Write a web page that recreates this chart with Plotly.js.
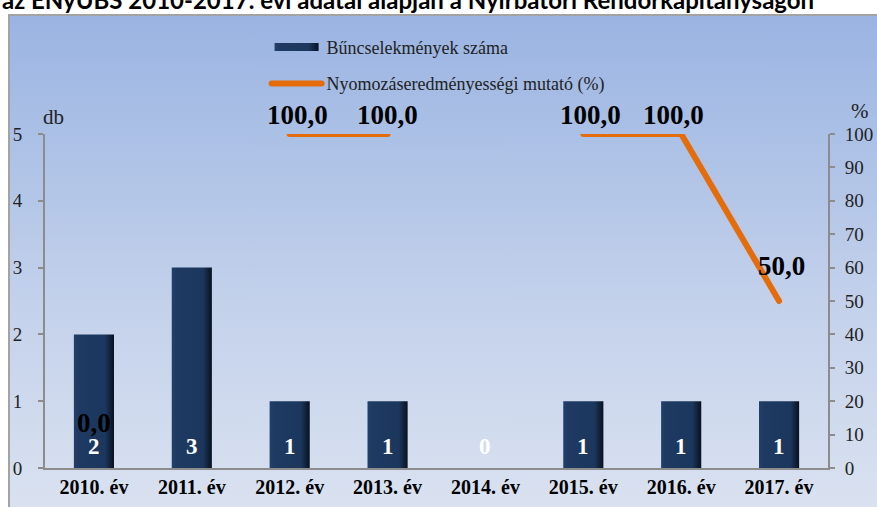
<!DOCTYPE html>
<html>
<head>
<meta charset="utf-8">
<script src="https://cdn.plot.ly/plotly-3.0.1.min.js"></script>
<style>
  html, body { margin: 0; padding: 0; background: #ffffff; }
  #wrap { position: relative; width: 877px; height: 507px; overflow: hidden; }
  #frame { position: absolute; left: 8px; top: 14px; width: 900px; height: 520px;
           border: 2px solid #a3a3a3;
           background: linear-gradient(to bottom, #9AB4E2 0%, #C3D1EB 55%, #DDE4F1 100%); }
  #chart { position: absolute; left: 0; top: 0; width: 877px; height: 507px; }
</style>
</head>
<body>
<div id="wrap">
  <div id="frame"></div>
  <div id="chart"></div>
</div>
<script>
// ---- data ----
const categories = ['2010. év', '2011. év', '2012. év', '2013. év', '2014. év', '2015. év', '2016. év', '2017. év'];
const crimeCounts = [2, 3, 1, 1, 0, 1, 1, 1];
const clearanceRate = [0, null, 100, 100, null, 100, 100, 50];
const rateLabels = ['0,0', null, '100,0', '100,0', null, '100,0', '100,0', '50,0'];
const barName = 'Bűncselekmények száma';
const lineName = 'Nyomozáseredményességi mutató (%)';
const chartTitle = 'az ENyÜBS 2010-2017. évi adatai alapján a Nyírbátori Rendőrkapitányságon';

// ---- label offsets (style) ----
const rateLabelShiftX = [0, 0, 8, 0, 0, 7, -8, 2];
const rateLabelShiftY = [40, 0, 14, 14, 0, 14, 14, 30];

const serif = 'Liberation Serif, Times New Roman, serif';

const bars = {
  type: 'bar', x: categories, y: crimeCounts, name: barName,
  width: 0.41,
  marker: { color: '#1E3960', line: { color: '#0C1A2E', width: 0 } },
  legendgroup: 'a', hoverinfo: 'skip'
};
const line = {
  type: 'scatter', mode: 'lines', x: categories, y: clearanceRate, yaxis: 'y2',
  name: lineName, connectgaps: false,
  line: { color: '#E46C0A', width: 6 },
  legendgroup: 'b', hoverinfo: 'skip'
};

const annotations = [];
categories.forEach((c, i) => {
  annotations.push({
    x: c, y: 0, xref: 'x', yref: 'y', yanchor: 'bottom', yshift: 7,
    text: '<b>' + crimeCounts[i] + '</b>', showarrow: false,
    font: { family: serif, size: 23, color: '#ffffff' }
  });
  if (rateLabels[i] !== null) {
    annotations.push({
      x: c, y: clearanceRate[i], xref: 'x', yref: 'y2', yanchor: 'bottom',
      xshift: rateLabelShiftX[i], yshift: rateLabelShiftY[i] - 12,
      text: '<b>' + rateLabels[i] + '</b>', showarrow: false,
      font: { family: serif, size: 27, color: '#000000' }
    });
  }
});
annotations.push({ xref: 'paper', yref: 'paper', x: 0, y: 1.0, xanchor: 'center', yanchor: 'bottom',
  xshift: 8, yshift: 3, text: 'db', showarrow: false, font: { family: serif, size: 21, color: '#222' } });
annotations.push({ xref: 'paper', yref: 'paper', x: 1.0, y: 1.0, xanchor: 'left', yanchor: 'bottom',
  xshift: 21, yshift: 9, text: '%', showarrow: false, font: { family: serif, size: 21, color: '#222' } });
annotations.push({ xref: 'paper', yref: 'paper', x: -0.0575, y: 1.352, xanchor: 'left', yanchor: 'bottom',
  text: '<b>' + chartTitle + '</b>', showarrow: false, font: { family: 'Lato, Liberation Sans, sans-serif', size: 24, color: '#000' } });

const layout = {
  width: 877, height: 507,
  margin: { l: 45, r: 49, t: 134, b: 39 },
  paper_bgcolor: 'rgba(0,0,0,0)', plot_bgcolor: 'rgba(0,0,0,0)',
  showlegend: true,
  legend: { x: 0.283, y: 1.315, xanchor: 'left', yanchor: 'top', bgcolor: 'rgba(0,0,0,0)',
            traceorder: 'grouped', tracegroupgap: 10, itemwidth: 50,
            font: { family: serif, size: 18, color: '#222' } },
  bargap: 0.59,
  xaxis: { type: 'category', showline: true, linecolor: '#8c8c8c', linewidth: 2,
           ticks: '', showgrid: false, zeroline: false,
           tickfont: { family: serif, size: 20, color: '#000', weight: 'bold' } },
  yaxis: { range: [0, 5], dtick: 1, showline: true, linecolor: '#8c8c8c', linewidth: 2,
           ticks: 'outside', ticklen: 5, tickcolor: '#8c8c8c', tickwidth: 2,
           ticklabelstandoff: 12, showgrid: false, zeroline: false,
           tickfont: { family: serif, size: 19, color: '#222' } },
  yaxis2: { range: [0, 100], dtick: 10, overlaying: 'y', side: 'right',
            showline: true, linecolor: '#8c8c8c', linewidth: 2,
            ticks: 'outside', ticklen: 5, tickcolor: '#8c8c8c', tickwidth: 2,
            ticklabelstandoff: 6, showgrid: false, zeroline: false,
            tickfont: { family: serif, size: 19, color: '#222' } },
  annotations: annotations
};

Plotly.newPlot('chart', [bars, line], layout, { displayModeBar: false, staticPlot: true }).then(() => {
  const svgNS = 'http://www.w3.org/2000/svg';
  const mainSvg = document.querySelector('#chart svg.main-svg');
  let defs = mainSvg.querySelector('defs');
  if (!defs) { defs = document.createElementNS(svgNS, 'defs'); mainSvg.insertBefore(defs, mainSvg.firstChild); }
  const grad = document.createElementNS(svgNS, 'linearGradient');
  grad.setAttribute('id', 'barGrad');
  grad.setAttribute('x1', '0'); grad.setAttribute('y1', '0');
  grad.setAttribute('x2', '1'); grad.setAttribute('y2', '0');
  [['0', '#22406a'], ['0.12', '#1e3a62'], ['0.78', '#1c375d'], ['1', '#08111f']].forEach(([o, c]) => {
    const s = document.createElementNS(svgNS, 'stop');
    s.setAttribute('offset', o); s.setAttribute('stop-color', c);
    grad.appendChild(s);
  });
  defs.appendChild(grad);
  document.querySelectorAll('#chart .barlayer .point path').forEach(p => {
    p.style.fill = 'url(#barGrad)';
  });
  document.querySelectorAll('#chart .scatterlayer path.js-line, #chart .legend path.js-line').forEach(p => {
    p.style.strokeLinecap = 'round';
    p.style.strokeLinejoin = 'round';
  });
  // make the bar legend symbol a wide flat bar like the reference
  const legLine = document.querySelector('#chart .legend path.js-line');
  const legBar = document.querySelector('#chart .legend .legendbar path, #chart .legend .legendpoints path');
  if (legLine && legBar) {
    const lr = legLine.getBoundingClientRect();
    const br = legBar.getBoundingClientRect();
    const originX = br.left + br.width / 2;  // bar symbol is symmetric about its local origin
    const w = lr.width - 6;
    const x0 = lr.left + 3 - originX;
    legBar.setAttribute('d', `M${x0},-4h${w}v8h${-w}z`);
    legBar.style.fill = 'url(#barGrad)';
    legBar.style.stroke = 'none';
  }
});
</script>
</body>
</html>
